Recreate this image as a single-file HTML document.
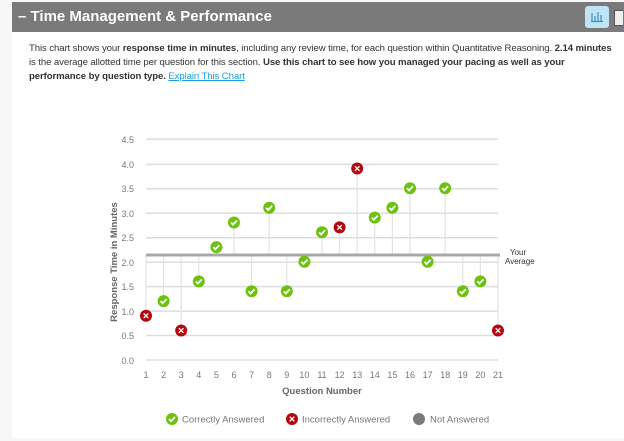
<!DOCTYPE html>
<html><head><meta charset="utf-8"><style>
body{margin:0;width:624px;height:441px;background:#f7f7f7;font-family:"Liberation Sans",sans-serif;overflow:hidden;position:relative}
.card{position:absolute;left:12px;top:2px;width:612px;height:436px;background:#fff}
.hdr{position:absolute;left:12px;top:2px;width:612px;height:30px;background:#7a7a7a;color:#fff;font-weight:bold;font-size:15px;line-height:30px}
.hdr span{margin-left:6px}
.btn{position:absolute;left:585px;top:6px;width:24px;height:22px;background:#bfe4f5;border-radius:3px}
.desc{position:absolute;left:29px;top:42px;width:600px;font-size:9.6px;letter-spacing:-0.1px;line-height:14px;color:#333;white-space:nowrap}
a{color:#1a9fe0;text-decoration:underline}
</style></head><body>
<div class="card"></div>
<div class="hdr"><span>– Time Management &amp; Performance</span></div>
<div class="btn"><svg width="24" height="22"><g stroke="#3b8fbf" stroke-width="1.2"><line x1="7" y1="7" x2="7" y2="15"/><line x1="10" y1="10" x2="10" y2="15"/><line x1="13" y1="6" x2="13" y2="15"/><line x1="16" y1="9" x2="16" y2="15"/><line x1="6" y1="15.5" x2="18" y2="15.5"/></g></svg></div>
<div style="position:absolute;left:614px;top:10px;width:8px;height:14px;border:1px solid #555;border-right:none;background:#eee"></div>
<div class="desc">This chart shows your <b>response time in minutes</b>, including any review time, for each question within Quantitative Reasoning. <b>2.14 minutes</b><br>is the average allotted time per question for this section. <b>Use this chart to see how you managed your pacing as well as your</b><br><b>performance by question type.</b> <a>Explain This Chart</a></div>
<svg style="position:absolute;left:0;top:0" width="624" height="441" font-family="Liberation Sans, sans-serif">
<defs>
<g id="ok"><circle r="6" fill="#6cc20e"/><path d="M-3,0 L-1,2.2 L3,-2" stroke="#fff" stroke-width="1.8" fill="none"/></g>
<g id="no"><circle r="6" fill="#b3080f"/><path d="M-2.3,-2.3 L2.3,2.3 M2.3,-2.3 L-2.3,2.3" stroke="#fff" stroke-width="1.3"/></g>
</defs>
<g stroke="#ddd" stroke-width="1.5">
<line x1="146" x2="498" y1="139.1" y2="139.1"/><line x1="146" x2="498" y1="164.4" y2="164.4"/>
<line x1="146" x2="498" y1="188.8" y2="188.8"/><line x1="146" x2="498" y1="213.3" y2="213.3"/>
<line x1="146" x2="498" y1="237.7" y2="237.7"/><line x1="146" x2="498" y1="262.2" y2="262.2"/>
<line x1="146" x2="498" y1="286.6" y2="286.6"/><line x1="146" x2="498" y1="311.1" y2="311.1"/>
<line x1="146" x2="498" y1="335.5" y2="335.5"/><line x1="146" x2="498" y1="360" y2="360"/>
</g>
<g font-size="9" fill="#777" text-anchor="end">
<text x="134" y="143">4.5</text><text x="134" y="168">4.0</text><text x="134" y="192">3.5</text><text x="134" y="217">3.0</text><text x="134" y="241">2.5</text><text x="134" y="266">2.0</text><text x="134" y="290">1.5</text><text x="134" y="315">1.0</text><text x="134" y="339">0.5</text><text x="134" y="364">0.0</text>
</g>
<text transform="translate(117,262) rotate(-90)" font-size="9.5" font-weight="bold" fill="#666" text-anchor="middle">Response Time in Minutes</text>
<g stroke="#e3e3e3" stroke-width="1.2">
<line x1="146" x2="146" y1="255" y2="315.8"/><line x1="163.6" x2="163.6" y1="255" y2="301.1"/><line x1="181.2" x2="181.2" y1="255" y2="330.5"/><line x1="198.8" x2="198.8" y1="255" y2="281.4"/><line x1="216.4" x2="216.4" y1="255" y2="247.1"/><line x1="234" x2="234" y1="255" y2="222.5"/><line x1="251.6" x2="251.6" y1="255" y2="291.3"/><line x1="269.2" x2="269.2" y1="255" y2="207.8"/><line x1="286.8" x2="286.8" y1="255" y2="291.3"/><line x1="304.4" x2="304.4" y1="255" y2="261.8"/><line x1="322" x2="322" y1="255" y2="232.3"/><line x1="339.6" x2="339.6" y1="255" y2="227.4"/><line x1="357.2" x2="357.2" y1="255" y2="168.5"/><line x1="374.8" x2="374.8" y1="255" y2="217.6"/><line x1="392.4" x2="392.4" y1="255" y2="207.8"/><line x1="410" x2="410" y1="255" y2="188.2"/><line x1="427.6" x2="427.6" y1="255" y2="261.8"/><line x1="445.2" x2="445.2" y1="255" y2="188.2"/><line x1="462.8" x2="462.8" y1="255" y2="291.3"/><line x1="480.4" x2="480.4" y1="255" y2="281.4"/><line x1="498" x2="498" y1="255" y2="330.5"/>
</g>
<line x1="146" x2="500" y1="255" y2="255" stroke="#a8a8a8" stroke-width="3"/>
<text x="510" y="255" font-size="8" fill="#333">Your</text>
<text x="505" y="264" font-size="8" fill="#333">Average</text>
<use href="#no" x="146" y="315.8"/><use href="#ok" x="163.6" y="301.1"/><use href="#no" x="181.2" y="330.5"/><use href="#ok" x="198.8" y="281.4"/><use href="#ok" x="216.4" y="247.1"/><use href="#ok" x="234" y="222.5"/><use href="#ok" x="251.6" y="291.3"/><use href="#ok" x="269.2" y="207.8"/><use href="#ok" x="286.8" y="291.3"/><use href="#ok" x="304.4" y="261.8"/><use href="#ok" x="322" y="232.3"/><use href="#no" x="339.6" y="227.4"/><use href="#no" x="357.2" y="168.5"/><use href="#ok" x="374.8" y="217.6"/><use href="#ok" x="392.4" y="207.8"/><use href="#ok" x="410" y="188.2"/><use href="#ok" x="427.6" y="261.8"/><use href="#ok" x="445.2" y="188.2"/><use href="#ok" x="462.8" y="291.3"/><use href="#ok" x="480.4" y="281.4"/><use href="#no" x="498" y="330.5"/>
<g font-size="9" fill="#777" text-anchor="middle">
<text x="146" y="378">1</text><text x="163.6" y="378">2</text><text x="181.2" y="378">3</text><text x="198.8" y="378">4</text><text x="216.4" y="378">5</text><text x="234" y="378">6</text><text x="251.6" y="378">7</text><text x="269.2" y="378">8</text><text x="286.8" y="378">9</text><text x="304.4" y="378">10</text><text x="322" y="378">11</text><text x="339.6" y="378">12</text><text x="357.2" y="378">13</text><text x="374.8" y="378">14</text><text x="392.4" y="378">15</text><text x="410" y="378">16</text><text x="427.6" y="378">17</text><text x="445.2" y="378">18</text><text x="462.8" y="378">19</text><text x="480.4" y="378">20</text><text x="498" y="378">21</text>
</g>
<text x="322" y="394" font-size="9.5" font-weight="bold" fill="#666" text-anchor="middle">Question Number</text>
<use href="#ok" x="172" y="419"/><text x="182" y="422.5" font-size="9.5" fill="#777">Correctly Answered</text>
<use href="#no" x="292" y="419"/><text x="302" y="422.5" font-size="9.5" fill="#777">Incorrectly Answered</text>
<circle cx="419" cy="419" r="6" fill="#7a7a7a"/><text x="430" y="422.5" font-size="9.5" fill="#777">Not Answered</text>
</svg>
</body></html>
